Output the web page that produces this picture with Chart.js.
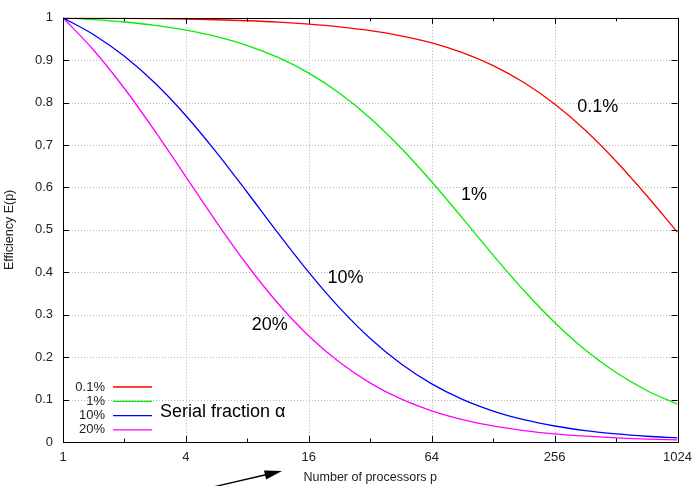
<!DOCTYPE html>
<html><head><meta charset="utf-8">
<script src="https://cdn.jsdelivr.net/npm/chart.js@4.4.0/dist/chart.umd.min.js"></script>
<style>html,body{margin:0;padding:0;background:#fff}#wrap{width:700px;height:486px;position:relative}</style>
</head><body><div id="wrap"><canvas id="c"></canvas></div>
<script>
const processors = [1,1.414,2,2.828,4,5.657,8,11.31,16,22.63,32,45.25,64,90.51,128,181,256,362,512,724.1,1024];
const eff01 = [1,0.9996,0.9990,0.9982,0.9970,0.9954,0.9930,0.9898,0.9852,0.9788,0.9699,0.9576,0.9407,0.9178,0.8873,0.8475,0.7968,0.7348,0.6618,0.5804,0.4943];
const eff1  = [1,0.9959,0.9901,0.9820,0.9709,0.9555,0.9346,0.9065,0.8696,0.8222,0.7634,0.6932,0.6135,0.5277,0.4405,0.3571,0.2817,0.2169,0.1637,0.1215,0.0890];
const eff10 = [1,0.9602,0.9091,0.8455,0.7692,0.6823,0.5882,0.4924,0.4000,0.3162,0.2439,0.1843,0.1370,0.1005,0.0730,0.0526,0.0377,0.0270,0.0192,0.0136,0.0097];
const eff20 = [1,0.9235,0.8333,0.7322,0.6250,0.5178,0.4167,0.3266,0.2500,0.1878,0.1389,0.1015,0.0735,0.0529,0.0379,0.0270,0.0192,0.0137,0.0097,0.0069,0.0049];
const seriesLabels = ['0.1%','1%','10%','20%'];
const xTickValues = [1,2,4,8,16,32,64,128,256,512,1024];
const xTickLabels = ['1','','4','','16','','64','','256','','1024'];
const yTickValues = [0,0.1,0.2,0.3,0.4,0.5,0.6,0.7,0.8,0.9,1];
const yTickLabels = ['0','0.1','0.2','0.3','0.4','0.5','0.6','0.7','0.8','0.9','1'];
const xTitle = 'Number of processors p';
const yTitle = 'Efficiency E(p)';
const legendTitle = 'Serial fraction \u03b1';

const seriesValues = [eff01, eff1, eff10, eff20];
const colors = ['#ff0000','#00ee00','#0000ff','#ff00ff'];
const FONT = '"Liberation Sans", Arial, Helvetica, sans-serif';

const datasets = seriesValues.map((vals, i) => ({
  label: seriesLabels[i],
  data: processors.map((p, j) => ({x: p, y: vals[j]})),
  borderColor: colors[i],
  borderWidth: 1.3,
  pointRadius: 0,
  fill: false,
  cubicInterpolationMode: 'monotone'
}));

const decor = {
  id: 'decor',
  beforeDatasetsDraw(chart) {
    const {ctx, chartArea: a, scales: {x, y}} = chart;
    ctx.save();
    ctx.strokeStyle = '#b4b4b4';
    ctx.lineWidth = 1;
    ctx.setLineDash([1, 2]);
    xTickValues.forEach((v, i) => {
      if (!xTickLabels[i] || v === xTickValues[0] || v === xTickValues[xTickValues.length-1]) return;
      const px = Math.round(x.getPixelForValue(v)) + 0.5;
      ctx.beginPath(); ctx.moveTo(px, a.top); ctx.lineTo(px, a.bottom); ctx.stroke();
    });
    yTickValues.forEach((v, i) => {
      if (i === 0 || i === yTickValues.length - 1) return;
      const py = Math.round(y.getPixelForValue(v)) + 0.5;
      ctx.beginPath(); ctx.moveTo(a.left, py); ctx.lineTo(a.right, py); ctx.stroke();
    });
    ctx.restore();
  },
  afterDatasetsDraw(chart) {
    const {ctx, chartArea: a, scales: {x, y}} = chart;
    ctx.save();
    // border
    ctx.strokeStyle = '#000';
    ctx.lineWidth = 1;
    ctx.setLineDash([]);
    ctx.strokeRect(Math.round(a.left) + 0.5, Math.round(a.top) + 0.5, Math.round(a.right - a.left), Math.round(a.bottom - a.top));
    // x ticks (bottom & top)
    xTickValues.forEach((v, i) => {
      const px = Math.round(x.getPixelForValue(v)) + 0.5;
      const len = xTickLabels[i] ? 6 : 3.5;
      ctx.beginPath();
      ctx.moveTo(px, a.bottom); ctx.lineTo(px, a.bottom - len);
      ctx.moveTo(px, a.top); ctx.lineTo(px, a.top + len);
      ctx.stroke();
    });
    yTickValues.forEach((v) => {
      const py = Math.round(y.getPixelForValue(v)) + 0.5;
      ctx.beginPath();
      ctx.moveTo(a.left, py); ctx.lineTo(a.left + 6, py);
      ctx.moveTo(a.right, py); ctx.lineTo(a.right - 6, py);
      ctx.stroke();
    });
    // legend
    ctx.font = '13px ' + FONT;
    ctx.textAlign = 'right';
    ctx.textBaseline = 'middle';
    const legendTop = a.bottom - 55;
    chart.data.datasets.forEach((ds, i) => {
      const ly = legendTop + i * 14.3;
      ctx.fillStyle = '#222';
      ctx.fillText(ds.label, 105, ly);
      ctx.strokeStyle = ds.borderColor;
      ctx.lineWidth = 1.3;
      ctx.beginPath(); ctx.moveTo(113, ly); ctx.lineTo(152, ly); ctx.stroke();
    });
    ctx.font = '18px ' + FONT;
    ctx.textAlign = 'left';
    ctx.textBaseline = 'alphabetic';
    ctx.fillStyle = '#000';
    ctx.fillText(legendTitle, 160, 417);
    // curve labels (data coordinates)
    const curveLabelAt = [[416, 0.790], [103, 0.583], [24.2, 0.387], [10.3, 0.276]];
    ctx.font = '18px ' + FONT;
    ctx.textAlign = 'center';
    ctx.textBaseline = 'middle';
    seriesLabels.forEach((lab, i) => {
      ctx.fillText(lab, x.getPixelForValue(curveLabelAt[i][0]), y.getPixelForValue(curveLabelAt[i][1]));
    });
    // axis titles
    ctx.fillStyle = '#222';
    ctx.font = '12.5px ' + FONT;
    ctx.fillText(xTitle, (a.left + a.right) / 2, 478);
    ctx.save();
    ctx.translate(10, (a.top + a.bottom) / 2);
    ctx.rotate(-Math.PI / 2);
    ctx.fillText(yTitle, 0, 0);
    ctx.restore();
    // arrow
    ctx.strokeStyle = '#000';
    ctx.fillStyle = '#000';
    ctx.lineWidth = 1.3;
    const x0 = 213, y0 = 487, x1 = 282, y1 = 471;
    const ang = Math.atan2(y1 - y0, x1 - x0);
    const hl = 18, hw = 0.26;
    ctx.beginPath(); ctx.moveTo(x0, y0); ctx.lineTo(x1 - hl * 0.8 * Math.cos(ang), y1 - hl * 0.8 * Math.sin(ang)); ctx.stroke();
    ctx.beginPath();
    ctx.moveTo(x1, y1);
    ctx.lineTo(x1 - hl * Math.cos(ang - hw), y1 - hl * Math.sin(ang - hw));
    ctx.lineTo(x1 - hl * Math.cos(ang + hw), y1 - hl * Math.sin(ang + hw));
    ctx.closePath(); ctx.fill();
    ctx.restore();
  }
};

new Chart(document.getElementById('c'), {
  type: 'line',
  data: {datasets},
  options: {
    responsive: true,
    maintainAspectRatio: false,
    animation: false,
    layout: {padding: {top: 7.5, right: 21, left: 0, bottom: 0}},
    plugins: {legend: {display: false}, tooltip: {enabled: false}},
    scales: {
      x: {
        type: 'logarithmic', min: 1, max: 1024,
        afterBuildTicks: s => { s.ticks = xTickValues.map(v => ({value: v})); },
        afterFit: s => { s.height = 44; },
        grid: {display: false, drawTicks: false},
        border: {display: false},
        ticks: {
          autoSkip: false, maxRotation: 0, padding: 8, color: '#222',
          font: {family: FONT, size: 13},
          callback: (v, i) => xTickLabels[i]
        }
      },
      y: {
        type: 'linear', min: 0, max: 1,
        afterBuildTicks: s => { s.ticks = yTickValues.map(v => ({value: v})); },
        afterFit: s => { s.width = 63; },
        grid: {display: false, drawTicks: false},
        border: {display: false},
        ticks: {
          padding: 10, color: '#222',
          font: {family: FONT, size: 13},
          callback: (v, i) => yTickLabels[i]
        }
      }
    }
  },
  plugins: [decor]
});
</script>
</body></html>
